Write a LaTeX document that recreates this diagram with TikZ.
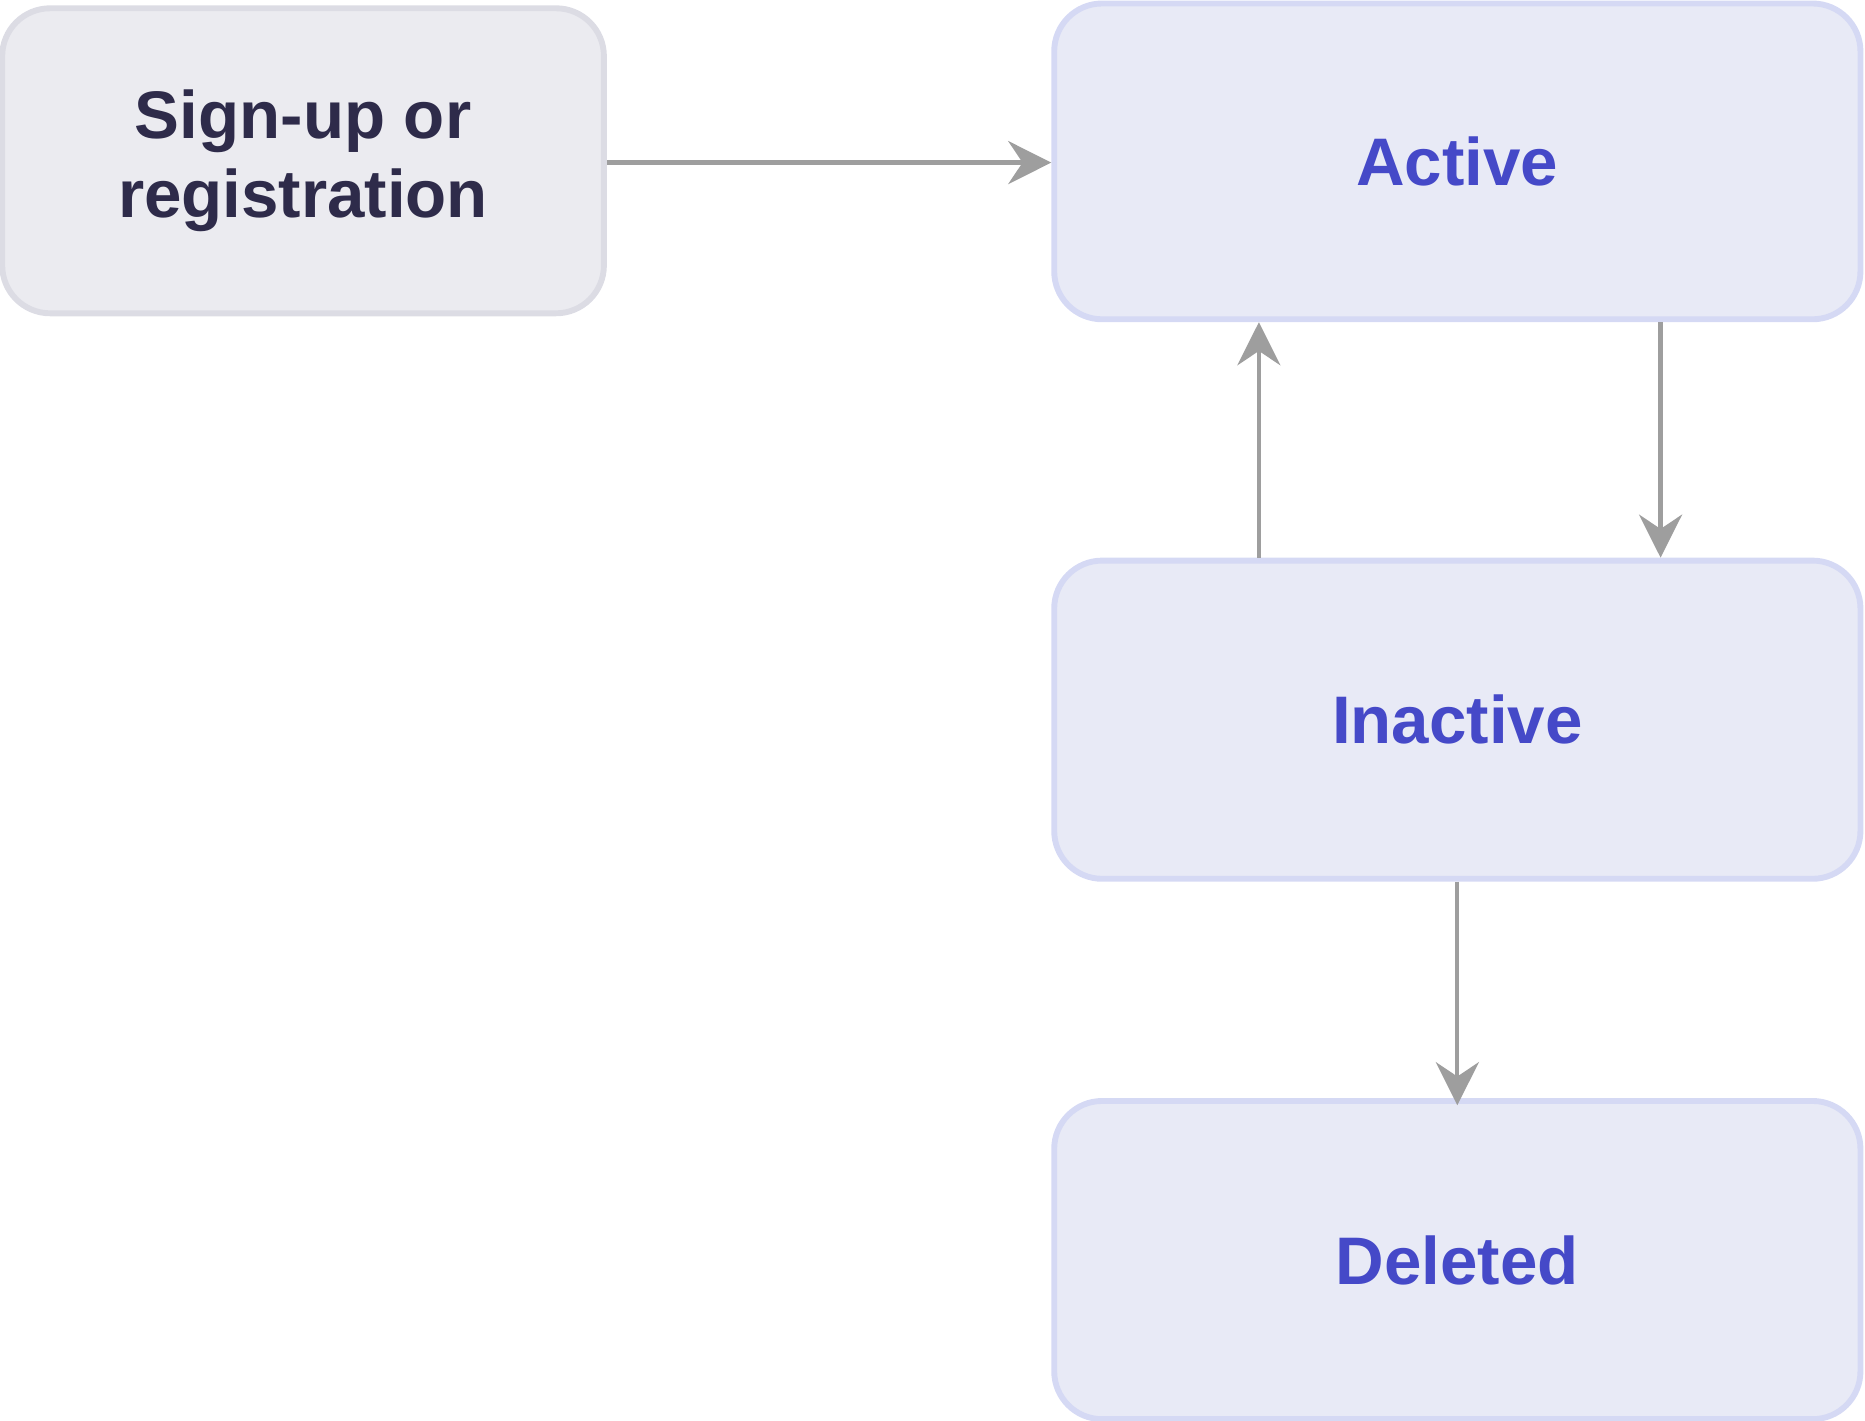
\documentclass[tikz,border=0pt]{standalone}
\usepackage{fontspec}
\setmainfont{Liberation Sans}
\usetikzlibrary{arrows.meta}
\definecolor{gfill}{HTML}{EBEBF0}
\definecolor{gborder}{HTML}{DCDCE4}
\definecolor{gtext}{HTML}{2E2B4A}
\definecolor{bfill}{HTML}{E8EAF6}
\definecolor{bborder}{HTML}{D5D9F4}
\definecolor{btext}{HTML}{4549C8}
\definecolor{arr}{HTML}{9E9E9E}
\begin{document}
\begin{tikzpicture}[x=0.01cm,y=-0.01cm,
  box/.style={draw, rounded corners=0.4cm, line width=1.4pt, font=\bfseries\fontsize{16}{19}\selectfont, align=center, inner sep=0},
  gbox/.style={box, fill=gfill, draw=gborder, text=gtext},
  bbox/.style={box, fill=bfill, draw=bborder, text=btext},
  conn/.style={draw=arr, line width=1pt, -{Stealth[length=0.36cm,width=0.36cm,inset=0.12cm]}}]
\useasboundingbox (0,0) rectangle (1560,1188);
\node[gbox, minimum width=5.03cm, minimum height=2.55cm] (s) at (253.5,134.5) {Sign-up or\\registration};
\node[bbox, minimum width=6.74cm, minimum height=2.64cm] (a) at (1219,135) {Active};
\node[bbox, minimum width=6.74cm, minimum height=2.66cm] (i) at (1219,602) {Inactive};
\node[bbox, minimum width=6.74cm, minimum height=2.66cm] (d) at (1219,1054) {Deleted};
\draw[conn] (s.east |- 0,136) -- (a.west |- 0,136);
\draw[conn] (a.south -| 1389,0) -- (i.north -| 1389,0);
\draw[conn] (i.north -| 1053,0) -- (a.south -| 1053,0);
\draw[conn] (i.south) -- ([yshift=-0.06cm]d.north);
\end{tikzpicture}
\end{document}
